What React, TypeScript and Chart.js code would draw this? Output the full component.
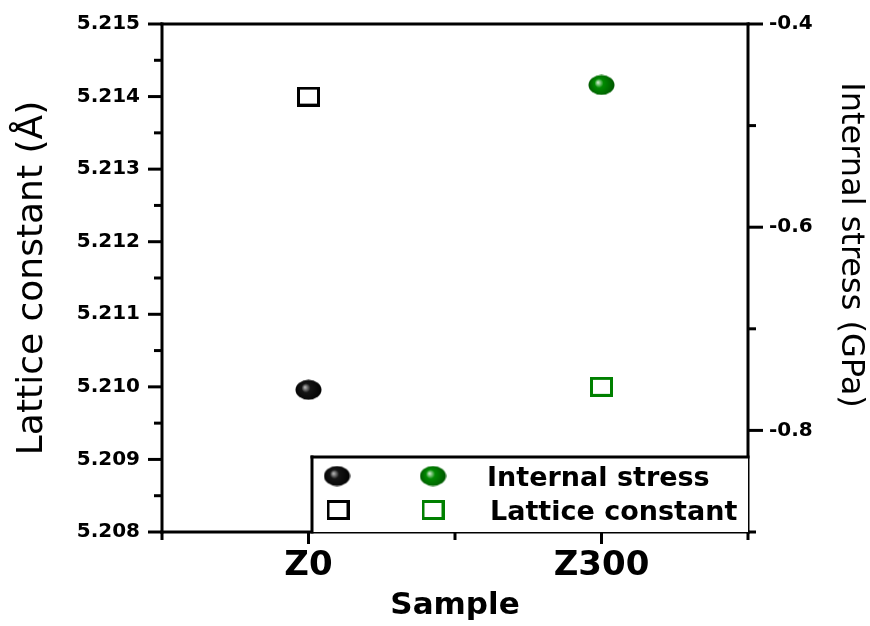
import React, { useEffect, useRef } from 'react';
import { Chart, registerables } from 'chart.js';

Chart.register(...registerables);

// ---- data ----
const SAMPLES = ['Z0', 'Z300'];
const SAMPLE_X = [1, 3];
const LATTICE = [5.214, 5.21];
const STRESS = [-0.76, -0.46];
const SAMPLE_COLORS = ['#000000', '#008000'];
const SERIES_LABELS = ['Internal stress', 'Lattice constant'];

// axis ranges / ticks
const LEFT_MIN = 5.208;
const LEFT_MAX = 5.215;
const LEFT_MAJOR = 0.001;
const RIGHT_MIN = -0.9;
const RIGHT_MAX = -0.4;
const RIGHT_STEP = 0.1;
const RIGHT_LABELED = [-0.4, -0.6, -0.8];
const X_MIN = 0;
const X_MAX = 4;

const FONT = "'DejaVu Sans', sans-serif";

function makeSphere(light: string, base: string, dark: string) {
  const c = document.createElement('canvas');
  c.width = 27;
  c.height = 21;
  const g = c.getContext('2d')!;
  const grd = g.createRadialGradient(10, 8, 0.5, 13.5, 10.5, 14);
  grd.addColorStop(0, light);
  grd.addColorStop(0.3, base);
  grd.addColorStop(1, dark);
  g.fillStyle = grd;
  g.beginPath();
  g.ellipse(13.5, 10.5, 13, 10, 0, 0, Math.PI * 2);
  g.fill();
  return c;
}

function makeSquare(color: string) {
  const c = document.createElement('canvas');
  c.width = 23;
  c.height = 20;
  const g = c.getContext('2d')!;
  g.strokeStyle = color;
  g.lineWidth = 3;
  g.strokeRect(1.5, 1.5, 20, 17);
  return c;
}

export default function App() {
  const ref = useRef<HTMLCanvasElement | null>(null);

  useEffect(() => {
    const canvas = ref.current;
    if (!canvas) return;

    const spheres = [
      makeSphere('#b0b0b0', '#151515', '#000000'),
      makeSphere('#c8e8c8', '#008a00', '#005000'),
    ];
    const squares = SAMPLE_COLORS.map((c) => makeSquare(c));

    const framePlugin = {
      id: 'frame',
      afterDraw(chart: any) {
        const { ctx, chartArea: a, scales } = chart;
        const y = scales.y;
        const y2 = scales.y2;
        const x = scales.x;
        ctx.save();
        ctx.strokeStyle = '#000';
        ctx.lineWidth = 3;
        ctx.lineCap = 'square';
        const line = (x1: number, y1: number, x2: number, y2_: number) => {
          ctx.beginPath();
          ctx.moveTo(x1, y1);
          ctx.lineTo(x2, y2_);
          ctx.stroke();
        };
        // frame
        line(a.left, a.top, a.right, a.top);
        line(a.left, a.bottom, a.right, a.bottom);
        line(a.left, a.top, a.left, a.bottom);
        line(a.right, a.top, a.right, a.bottom);

        ctx.lineCap = 'butt';
        // left ticks
        const nLeft = Math.round((LEFT_MAX - LEFT_MIN) / (LEFT_MAJOR / 2));
        for (let i = 0; i <= nLeft; i++) {
          const v = LEFT_MIN + (i * LEFT_MAJOR) / 2;
          const py = y.getPixelForValue(v);
          const len = i % 2 === 0 ? 14 : 8;
          line(a.left - len, py, a.left, py);
        }
        // right ticks
        const nRight = Math.round((RIGHT_MAX - RIGHT_MIN) / RIGHT_STEP);
        for (let i = 0; i <= nRight; i++) {
          const v = RIGHT_MIN + i * RIGHT_STEP;
          const py = y2.getPixelForValue(v);
          const major = RIGHT_LABELED.some((r) => Math.abs(r - v) < 1e-6);
          const len = major ? 15 : 8;
          line(a.right, py, a.right + len, py);
        }
        // x ticks
        for (let v = X_MIN; v <= X_MAX; v++) {
          const px = x.getPixelForValue(v);
          const major = SAMPLE_X.includes(v);
          const len = major ? 12 : 8;
          line(px, a.bottom, px, a.bottom + len);
        }

        // legend box
        const lx = 312;
        const ly = 457;
        ctx.fillStyle = '#fff';
        ctx.fillRect(lx, ly, a.right - lx, a.bottom - ly);
        ctx.lineCap = 'square';
        line(lx, ly, a.right, ly);
        line(lx, ly, lx, a.bottom);
        const row1 = 476;
        const row2 = 510;
        const col1 = 337;
        const col2 = 433;
        const drawImg = (img: HTMLCanvasElement, cx: number, cy: number) =>
          ctx.drawImage(img, cx - img.width / 2, cy - img.height / 2);
        drawImg(spheres[0], col1, row1);
        drawImg(spheres[1], col2, row1);
        drawImg(squares[0], col1 + 1, row2);
        drawImg(squares[1], col2, row2);
        ctx.fillStyle = '#000';
        ctx.font = `bold 27px ${FONT}`;
        ctx.textAlign = 'left';
        ctx.textBaseline = 'alphabetic';
        ctx.fillText(SERIES_LABELS[0], 487, 486);
        ctx.fillText(SERIES_LABELS[1], 490, 520);

        // right axis title
        ctx.save();
        ctx.translate(850, 245);
        ctx.rotate(Math.PI / 2);
        ctx.font = `32px ${FONT}`;
        ctx.textAlign = 'center';
        ctx.textBaseline = 'middle';
        ctx.fillText('Internal stress (GPa)', 0, 0);
        ctx.restore();

        ctx.restore();
      },
    };

    const noPadV = (s: any) => {
      s.paddingTop = 0;
      s.paddingBottom = 0;
    };

    const chart = new Chart(canvas, {
      type: 'scatter',
      data: {
        datasets: [
          {
            label: SERIES_LABELS[0],
            yAxisID: 'y2',
            data: SAMPLE_X.map((xv, i) => ({ x: xv, y: STRESS[i] })),
            pointStyle: spheres as any,
            pointRadius: 12,
            showLine: false,
          },
          {
            label: SERIES_LABELS[1],
            yAxisID: 'y',
            data: SAMPLE_X.map((xv, i) => ({ x: xv, y: LATTICE[i] })),
            pointStyle: squares as any,
            pointRadius: 12,
            showLine: false,
          },
        ],
      },
      options: {
        animation: false,
        responsive: false,
        layout: { padding: { top: 24, left: 0, right: 0, bottom: 0 } },
        plugins: {
          legend: { display: false },
          tooltip: { enabled: false },
        },
        scales: {
          x: {
            type: 'linear',
            position: 'bottom',
            min: X_MIN,
            max: X_MAX,
            grid: { display: false, drawTicks: false },
            border: { display: false },
            ticks: {
              stepSize: 1,
              autoSkip: false,
              maxRotation: 0,
              padding: 14,
              color: '#000',
              font: { family: FONT, size: 34, weight: 'bold' },
              callback: (v: any) => {
                const i = SAMPLE_X.indexOf(Number(v));
                return i >= 0 ? SAMPLES[i] : '';
              },
            },
            title: {
              display: true,
              text: 'Sample',
              color: '#000',
              font: { family: FONT, size: 31, weight: 'bold', lineHeight: 1 },
              padding: { top: 0, bottom: 5 },
            },
            afterFit: (s: any) => {
              s.height = 94;
              s.paddingLeft = 0;
              s.paddingRight = 0;
            },
          },
          y: {
            type: 'linear',
            position: 'left',
            min: LEFT_MIN,
            max: LEFT_MAX,
            grid: { display: false, drawTicks: false },
            border: { display: false },
            ticks: {
              stepSize: LEFT_MAJOR,
              padding: 22,
              color: '#000',
              font: { family: FONT, size: 20, weight: 'bold' },
              callback: (v: any) => Number(v).toFixed(3),
            },
            title: {
              display: true,
              text: 'Lattice constant (Å)',
              color: '#000',
              font: { family: FONT, size: 36, lineHeight: 1 },
              padding: { top: 15, bottom: 0 },
            },
            afterFit: (s: any) => {
              s.width = 162;
              noPadV(s);
            },
          },
          y2: {
            type: 'linear',
            position: 'right',
            min: RIGHT_MIN,
            max: RIGHT_MAX,
            grid: { display: false, drawTicks: false },
            border: { display: false },
            ticks: {
              stepSize: RIGHT_STEP,
              padding: 21,
              color: '#000',
              font: { family: FONT, size: 20, weight: 'bold' },
              callback: (v: any) => {
                const n = Number(v);
                return RIGHT_LABELED.some((r) => Math.abs(r - n) < 1e-6) ? n.toFixed(1) : '';
              },
            },
            afterFit: (s: any) => {
              s.width = 122;
              noPadV(s);
            },
          },
        },
      },
      plugins: [framePlugin],
    });

    return () => chart.destroy();
  }, []);

  return (
    <div style={{ position: 'absolute', left: 0, top: 0, width: 870, height: 626, background: '#fff' }}>
      <canvas ref={ref} width={870} height={626} style={{ display: 'block' }} />
    </div>
  );
}
